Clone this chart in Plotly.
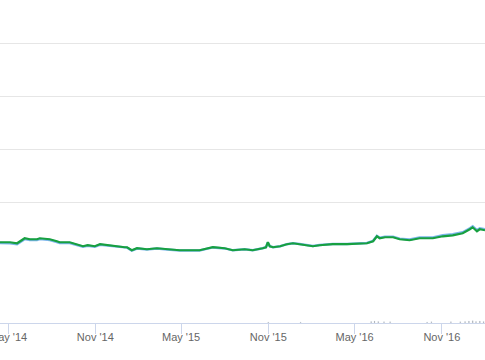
import plotly.graph_objects as go

dates = ["2014-04-14", "2014-05-05", "2014-05-20", "2014-05-30", "2014-06-05", "2014-06-16",
         "2014-07-01", "2014-07-07", "2014-07-28", "2014-08-12", "2014-08-18", "2014-09-08",
         "2014-09-23", "2014-10-06", "2014-10-16", "2014-10-31", "2014-11-11", "2014-11-26",
         "2014-12-16", "2015-01-02", "2015-01-07", "2015-01-17", "2015-01-28", "2015-02-18",
         "2015-03-11", "2015-04-01", "2015-04-28", "2015-06-09", "2015-07-07", "2015-08-01",
         "2015-08-18", "2015-09-12", "2015-09-29", "2015-10-20", "2015-10-27", "2015-10-31",
         "2015-11-04", "2015-11-11", "2015-11-26", "2015-12-10", "2015-12-23", "2016-01-06",
         "2016-01-21", "2016-02-03", "2016-02-17", "2016-03-16", "2016-04-15", "2016-05-12",
         "2016-05-27", "2016-06-09", "2016-06-17", "2016-06-23", "2016-07-04", "2016-07-21",
         "2016-08-04", "2016-08-25", "2016-09-15", "2016-10-13", "2016-11-03", "2016-11-24",
         "2016-12-15", "2016-12-30", "2017-01-05", "2017-01-14", "2017-01-20", "2017-01-31"]

green_vals = [24.5, 24.5, 22.6, 28.3, 32.1, 30.2,
              30.2, 32.1, 30.2, 26.4, 24.5, 24.5,
              20.8, 17.0, 18.9, 17.0, 20.8, 18.9,
              17.0, 15.1, 15.1, 9.4, 13.2, 11.3,
              13.2, 11.3, 9.4, 9.4, 15.1, 13.2,
              9.4, 11.3, 9.4, 13.2, 15.0, 24.5,
              17.0, 15.1, 17.0, 20.8, 22.6, 20.8,
              18.9, 17.0, 18.9, 20.8, 20.8, 22.6,
              22.6, 26.4, 35.8, 32.1, 34.0, 34.0,
              30.2, 28.3, 32.1, 32.1, 35.8, 37.7,
              41.5, 49.1, 52.8, 45.3, 49.1, 47.2]

blue_vals = [23.0, 22.8, 21.0, 26.8, 30.5, 28.6,
             28.6, 30.5, 28.8, 25.0, 23.2, 23.2,
             19.5, 16.0, 17.8, 16.0, 19.8, 18.0,
             16.2, 14.4, 14.4, 8.8, 12.6, 10.8,
             12.7, 10.9, 9.0, 9.1, 14.8, 12.9,
             9.2, 11.1, 9.3, 13.1, 15.0, 24.0,
             17.0, 15.1, 17.1, 20.9, 22.8, 21.0,
             19.1, 17.3, 19.2, 21.2, 21.3, 23.2,
             23.3, 27.2, 36.6, 33.0, 35.0, 35.1,
             31.4, 29.6, 33.5, 33.7, 37.6, 39.6,
             43.5, 51.0, 54.5, 47.2, 51.0, 49.2]

vol_dates = ["2015-11-01", "2016-01-08", "2016-06-05", "2016-06-12", "2016-06-20", "2016-07-02",
             "2016-07-15", "2016-10-01", "2016-10-10", "2016-11-20", "2016-12-10", "2016-12-20",
             "2016-12-28", "2017-01-05", "2017-01-12", "2017-01-20", "2017-01-28"]
vol_vals = [3, 3, 5, 6, 5, 4, 4, 3, 4, 4, 4, 5, 6, 7, 5, 6, 5]

tick_dates = ["2014-05-01", "2014-11-01", "2015-05-01", "2015-11-01", "2016-05-01", "2016-11-01"]
tick_text = ["May '14", "Nov '14", "May '15", "Nov '15", "May '16", "Nov '16"]

fig = go.Figure()
fig.add_trace(go.Scatter(x=dates, y=blue_vals, mode="lines",
                         line=dict(color="#7cb5ec", width=2.5), yaxis="y", xaxis="x",
                         hoverinfo="skip"))
fig.add_trace(go.Scatter(x=dates, y=green_vals, mode="lines",
                         line=dict(color="#17a040", width=2.2), yaxis="y", xaxis="x",
                         hoverinfo="skip"))
fig.add_trace(go.Bar(x=vol_dates, y=vol_vals, marker=dict(color="#666666"),
                     width=2 * 86400000, yaxis="y2", xaxis="x", hoverinfo="skip"))

fig.update_layout(
    width=485, height=360,
    margin=dict(l=0, r=0, t=0, b=37, pad=0, autoexpand=False),
    paper_bgcolor="white", plot_bgcolor="white",
    showlegend=False,
    xaxis=dict(type="date", range=["2014-04-14", "2017-01-31"],
               tickvals=tick_dates, ticktext=tick_text,
               ticks="outside", ticklen=10, tickcolor="#ccd6eb", tickwidth=1,
               showline=True, linecolor="#ccd6eb", linewidth=1,
               showgrid=False, zeroline=False, anchor="y2",
               ticklabeloverflow="allow", automargin=False,
               ticklabelstandoff=-6,
               tickfont=dict(family="Lucida Grande, Liberation Sans, Arial", size=11, color="#666666")),
    yaxis=dict(domain=[67 / 323, 1], range=[-1.5, 256 / 0.53],
               tickvals=[0, 100, 200, 300, 400], showticklabels=False,
               showgrid=True, gridcolor="#e6e6e6", gridwidth=1, zeroline=False,
               showline=False, ticks="", automargin=False),
    yaxis2=dict(domain=[0, 33 / 323], range=[0, 102],
                tickvals=[100], showticklabels=False,
                showgrid=True, gridcolor="#e6e6e6", gridwidth=1, zeroline=False,
                showline=False, ticks="", automargin=False),
)

fig.write_html("out.html", config={"displayModeBar": False},
               post_script="document.body.style.margin='0';document.body.style.overflow='hidden';")
